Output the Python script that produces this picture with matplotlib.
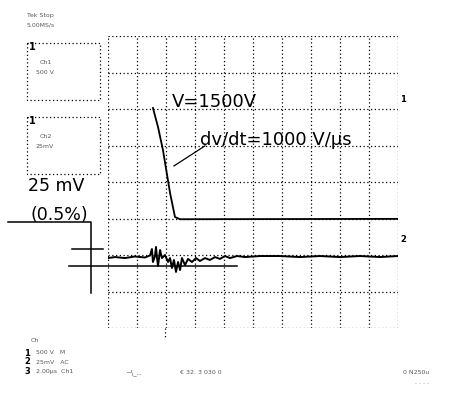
import numpy as np
import matplotlib
matplotlib.use("Agg")
import matplotlib.pyplot as plt
from matplotlib.patches import Rectangle

# scope settings
t_per_div = 2.0        # us / div
ch1_v_per_div = 500.0  # V / div
ch1_offset = -1.0      # div
ch2_mv_per_div = 25.0  # mV / div
ch2_offset = -2.0      # div

# channel 1 : the 1500 V falling edge (us, V)
ch1_t = [3.10, 3.45, 3.79, 4.28, 4.62, 4.97, 20.0]
ch1_v = [1514, 1253, 938, 349, 20, -10, -5]

# channel 2 : measured signal (us, mV)
ch2_t = [0.0, 0.48, 1.17, 1.86, 2.55, 2.90, 3.03, 3.10, 3.24, 3.31, 3.38, 3.45,
         3.59, 3.72, 3.93, 4.14, 4.28, 4.41, 4.55, 4.69, 4.83, 4.97, 5.10, 5.31,
         5.52, 5.79, 6.07, 6.34, 6.69, 7.03, 7.38, 7.72, 8.07, 8.41, 8.90, 9.45,
         10.48, 11.86, 13.24, 14.62, 16.0, 17.38, 18.76, 20.0]
ch2_mv = [-2.1, -1.4, -2.1, -1.0, -1.7, -0.3, 4.1, -4.8, -0.7, 5.5, -2.1, -7.5,
          3.4, -2.1, 0.0, -4.8, -2.1, -8.9, -3.4, -11.6, -4.8, -10.3, -2.1, -6.9,
          -2.7, -4.8, -2.1, -4.1, -2.1, -3.4, -1.4, -2.7, -0.7, -2.1, -0.7, -1.4,
          -0.7, -0.7, -1.4, -0.7, -1.4, -0.7, -1.4, -0.7]

# cursors on channel 2 (mV)
cursor_a = 4.1
cursor_b = -7.5

label_v = "V=1500V"
label_slope = "dv/dt=1000 V/\u00b5s"

W, H = 453, 404
fig = plt.figure(figsize=(W / 100, H / 100), dpi=100)

# decorations in pixel coordinates
deco = fig.add_axes([0, 0, 1, 1])
deco.set_xlim(0, W)
deco.set_ylim(H, 0)
deco.axis("off")

dot = (0, (1, 2))
for (x0, y0, x1, y1) in [(27, 43, 100, 100), (27, 117, 100, 174)]:
    deco.add_patch(Rectangle((x0, y0), x1 - x0, y1 - y0, fill=False,
                             ls=dot, lw=0.9, ec="k"))
deco.text(29, 47, "1", fontsize=7, fontweight="bold", va="center")
deco.text(29, 121, "1", fontsize=7, fontweight="bold", va="center")
deco.text(40, 63, "Ch1", fontsize=4.5, color="0.35", va="center")
deco.text(36, 73, "500 V", fontsize=4.5, color="0.35", va="center")
deco.text(40, 137, "Ch2", fontsize=4.5, color="0.35", va="center")
deco.text(36, 147, "25mV", fontsize=4.5, color="0.35", va="center")
deco.text(27, 15, "Tek Stop", fontsize=4.5, color="0.35", va="center")
deco.text(27, 25, "5.00MS/s", fontsize=4.5, color="0.35", va="center")

deco.text(28, 186, "25 mV", fontsize=12.5, va="center")
deco.text(31, 215, "(0.5%)", fontsize=12.5, va="center")

deco.text(31, 340, "Ch", fontsize=4.5, color="0.35", va="center")
for i, (y, s) in enumerate([(353, "500 V   M"), (362, "25mV   AC"), (371, "2.00\u00b5s  Ch1")]):
    deco.text(24, y, str(i + 1), fontsize=6, fontweight="bold", va="center")
    deco.text(36, y, s, fontsize=4.5, color="0.35", va="center")
deco.text(125, 373, "~\\_..", fontsize=5, color="0.35", va="center")
deco.text(180, 373, "\u20ac 32. 3 030 0", fontsize=4.5, color="0.35", va="center")
deco.text(403, 373, "0 N250u", fontsize=4.5, color="0.35", va="center")
deco.text(415, 382, ". . . .", fontsize=4.5, color="0.35", va="center")
deco.text(400, 100, "1", fontsize=6, fontweight="bold", va="center")
deco.text(400, 240, "2", fontsize=6, fontweight="bold", va="center")

# scope screen
ax = fig.add_axes([108 / W, (H - 328) / H, 290 / W, 292 / H])
ax.set_xlim(0, 10 * t_per_div)
ax.set_ylim(-4, 4)
ax.axis("off")
ax.patch.set_alpha(0)

for t in np.arange(0, 10 * t_per_div + 0.1, t_per_div):
    ax.axvline(t, color="k", lw=0.9, ls=dot)
for d in range(-4, 5):
    ax.axhline(d, color="k", lw=0.9, ls=dot)
# trigger position mark below the screen
ax.plot([3.93, 3.93], [-4, -4.3], color="k", lw=0.9, ls=dot, clip_on=False)

ch1_y = np.array(ch1_v) / ch1_v_per_div + ch1_offset
ax.plot(ch1_t, ch1_y, color="k", lw=1.3)

ch2_y = np.array(ch2_mv) / ch2_mv_per_div + ch2_offset
ax.plot(ch2_t, ch2_y, color="k", lw=1.4)

# cursors
ya = cursor_a / ch2_mv_per_div + ch2_offset
yb = cursor_b / ch2_mv_per_div + ch2_offset
ax.plot([-2.48, -0.34], [ya, ya], color="k", lw=1.1, clip_on=False)
ax.plot([-2.69, 8.90], [yb, yb], color="k", lw=1.1, clip_on=False)
ax.plot([-6.9, -1.17, -1.17], [-1.1, -1.1, -3.04], color="k", lw=1.1, clip_on=False)

# annotations
ax.text(4.41, 2.19, label_v, fontsize=13, va="center", ha="left")
ax.text(6.34, 1.15, label_slope, fontsize=13, va="center", ha="left")
ax.plot([4.55, 6.69], [0.44, 0.99], color="k", lw=0.9)

fig.savefig("out.png", dpi=100)
